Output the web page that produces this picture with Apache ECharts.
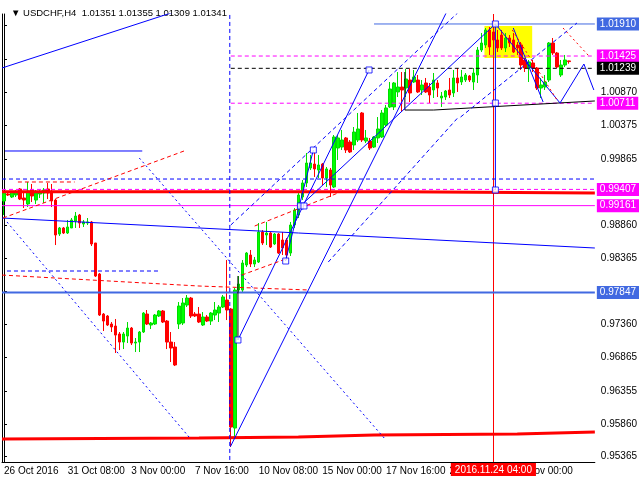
<!DOCTYPE html>
<html><head><meta charset="utf-8">
<script src="https://cdn.jsdelivr.net/npm/echarts@6/dist/echarts.min.js"></script>
<style>html,body{margin:0;padding:0;background:#fff}#c{width:640px;height:480px}</style>
</head><body><div id="c"></div>
<script>
// ---------- data ----------
const slotCount = 149; // bars + right shift
const xTickLabels = {0:'26 Oct 2016',16:'31 Oct 08:00',32:'3 Nov 00:00',48:'7 Nov 16:00',64:'10 Nov 08:00',80:'15 Nov 00:00',96:'17 Nov 16:00',112:'22 Nov 08:00',128:'25 Nov 00:00'};
const yTicks = [1.01890,1.01380,1.00870,1.00375,0.99865,0.99370,0.98860,0.98365,0.97860,0.97360,0.96865,0.96355,0.95860,0.95365];
const titleText = 'USDCHF,H4  1.01351 1.01355 1.01309 1.01341';
// [open, close, low, high]
const ohlc = [
[0.99231,0.99352,0.99019,0.99383],[0.99337,0.99322,0.99307,0.99368],[0.99292,0.99368,0.99277,0.99383],[0.99322,0.99352,0.99292,0.99398],
[0.99413,0.99261,0.99246,0.99428],[0.99277,0.99246,0.99125,0.99352],[0.99186,0.99383,0.99140,0.99519],[0.99398,0.99307,0.99216,0.99489],
[0.99246,0.99352,0.99186,0.99398],[0.99337,0.99368,0.99277,0.99398],[0.99352,0.99398,0.99201,0.99428],[0.99413,0.99352,0.99261,0.99504],
[0.99352,0.99231,0.99140,0.99489],[0.99246,0.98717,0.98565,0.99261],[0.98732,0.98823,0.98702,0.98838],[0.98823,0.98747,0.98732,0.98838],
[0.98747,0.98838,0.98732,0.98944],[0.98823,0.98944,0.98823,0.98974],[0.98929,0.99004,0.98823,0.99065],[0.99019,0.98898,0.98823,0.99035],
[0.98883,0.98914,0.98838,0.98944],[0.98898,0.98914,0.98868,0.98974],[0.98914,0.98581,0.98550,0.98929],[0.98596,0.98096,0.98081,0.98596],
[0.98127,0.97506,0.97491,0.98142],[0.97521,0.97415,0.97264,0.97536],[0.97491,0.97355,0.97340,0.97506],[0.97370,0.97325,0.97249,0.97400],
[0.97340,0.97203,0.96931,0.97446],[0.97219,0.97097,0.96976,0.97249],[0.97097,0.97219,0.96991,0.97249],[0.97188,0.97309,0.97082,0.97400],
[0.97309,0.97082,0.97052,0.97325],[0.97082,0.97097,0.96946,0.97158],[0.97097,0.97249,0.96946,0.97264],[0.97249,0.97536,0.97234,0.97551],
[0.97521,0.97370,0.97355,0.97582],[0.97355,0.97385,0.97294,0.97400],[0.97370,0.97506,0.97355,0.97521],[0.97491,0.97567,0.97476,0.97582],
[0.97567,0.97400,0.97385,0.97582],[0.97415,0.97097,0.96991,0.97430],[0.97097,0.97007,0.96795,0.97249],[0.97022,0.96750,0.96734,0.97097],
[0.97370,0.97642,0.97294,0.97703],[0.97385,0.97688,0.97355,0.97763],[0.97657,0.97763,0.97627,0.97809],[0.97763,0.97491,0.97461,0.97779],
[0.97521,0.97491,0.97476,0.97551],[0.97521,0.97400,0.97385,0.97627],[0.97355,0.97476,0.97340,0.97551],[0.97476,0.97415,0.97400,0.97506],
[0.97415,0.97536,0.97355,0.97551],[0.97506,0.97582,0.97430,0.97703],[0.97536,0.97627,0.97400,0.97657],[0.97627,0.97779,0.97612,0.97809],
[0.97733,0.97582,0.97430,0.98338],[0.97597,0.95811,0.95509,0.97612],[0.95796,0.97884,0.95660,0.97915],[0.97884,0.97975,0.97854,0.98096],
[0.97884,0.98293,0.97854,0.98338],[0.98263,0.98444,0.98232,0.98459],[0.98414,0.98278,0.98232,0.98490],[0.98278,0.98338,0.98232,0.98384],
[0.98308,0.98762,0.98293,0.98898],[0.98762,0.98596,0.98565,0.98792],[0.98717,0.98747,0.98565,0.98914],[0.98747,0.98535,0.98520,0.98762],
[0.98581,0.98732,0.98565,0.98747],[0.98732,0.98444,0.98429,0.98747],[0.98641,0.98520,0.98414,0.98762],[0.98641,0.98414,0.98338,0.98671],
[0.98444,0.98868,0.98399,0.98914],[0.98868,0.99095,0.98823,0.99125],[0.99019,0.99322,0.98974,0.99352],[0.99292,0.99504,0.99246,0.99549],
[0.99504,0.99806,0.99443,0.99958],[0.99731,0.99806,0.99700,0.99927],[0.99791,0.99716,0.99595,0.99973],[0.99700,0.99776,0.99579,0.99927],
[0.99791,0.99579,0.99473,0.99806],[0.99579,0.99716,0.99443,0.99746],[0.99700,0.99473,0.99292,0.99731],[0.99443,1.00200,0.99428,1.00230],
[1.00033,1.00185,0.99852,1.00230],[1.00048,1.00154,1.00003,1.00306],[1.00185,1.00003,0.99958,1.00200],[1.00124,0.99973,0.99958,1.00154],
[1.00079,1.00275,1.00003,1.00351],[1.00154,1.00321,1.00124,1.00563],[1.00563,1.00154,1.00124,1.00578],[1.00139,1.00185,1.00109,1.00306],
[1.00139,1.00033,1.00003,1.00185],[1.00048,1.00200,1.00033,1.00215],[1.00185,1.00321,1.00109,1.00502],[1.00200,1.00563,1.00185,1.00608],
[1.00381,1.00639,1.00351,1.00684],[1.00654,1.00926,1.00639,1.01032],[1.00654,1.01017,1.00608,1.01032],[1.00881,1.00956,1.00805,1.01183],
[1.00956,1.00911,1.00578,1.01183],[1.00941,1.01077,1.00805,1.01229],[1.01062,1.00866,1.00729,1.01229],[1.01032,1.01108,1.01017,1.01214],
[1.01062,1.00881,1.00866,1.01138],[1.00911,1.00987,1.00835,1.01062],[1.01017,1.00881,1.00866,1.01093],[1.00956,1.00835,1.00714,1.01017],
[1.00911,1.01062,1.00790,1.01168],[1.01017,1.00941,1.00805,1.01062],[1.00790,1.00820,1.00654,1.00881],[1.00805,1.00896,1.00760,1.00911],
[1.00911,1.00835,1.00790,1.01093],[1.00866,1.01093,1.00805,1.01214],[1.01093,1.01017,1.00881,1.01244],[1.01032,1.01108,1.00987,1.01214],
[1.01062,1.01138,1.01032,1.01168],[1.01123,1.01062,1.01032,1.01138],[1.01032,1.01168,1.00911,1.01244],[1.01138,1.01516,1.01017,1.01562],
[1.01516,1.01622,1.01486,1.01774],[1.01592,1.01819,1.01547,1.01849],[1.01819,1.01562,1.01441,1.01864],[1.01789,1.01668,1.01516,1.01910],
[1.01668,1.01547,1.01486,1.01819],[1.01743,1.01547,1.01516,1.01819],[1.01547,1.01698,1.01486,1.01774],[1.01698,1.01622,1.01562,1.01743],
[1.01668,1.01486,1.01471,1.01774],[1.01592,1.01547,1.01441,1.01637],[1.01592,1.01289,1.01214,1.01637],[1.01365,1.01244,1.01183,1.01395],
[1.01244,1.01335,1.01032,1.01365],[1.01320,1.01244,1.01183,1.01365],[1.01244,1.00941,1.00911,1.01259],[1.00941,1.00987,1.00790,1.01093],
[1.00956,1.01032,1.00911,1.01138],[1.01062,1.01622,1.01032,1.01637],[1.01622,1.01471,1.01441,1.01698],[1.01471,1.01259,1.01244,1.01486],
[1.01138,1.01289,1.01108,1.01365],[1.01289,1.01365,1.01259,1.01441],[1.01351,1.01341,1.01309,1.01355]
];
// drawn objects: [barIndex, price] points
const hBlueTop    = [[93,1.01910],[148.5,1.01910]];
const hMagTop     = [[57,1.01425],[148.5,1.01425]];
const hBlackCur   = [[57,1.01239],[148.5,1.01239]];
const hMagMid     = [[57,1.00711],[148.5,1.00711]];
const hBlueDash   = [[-0.5,0.99564],[148.5,0.99564]];
const hMagLow     = [[-0.5,0.99407],[148.5,0.99407]];
const hRedThick   = [[-0.5,0.99372],[99,0.99372],[99,0.99352],[148.5,0.99352]];
const hMagSolid   = [[-0.5,0.99161],[148.5,0.99161]];
const blueSlope   = [[-0.5,0.98974],[148.5,0.98520]];
const blueShortDash = [[0.75,0.98172],[39,0.98172]];
const redDashLow  = [[-0.5,0.98111],[49,0.97945],[76.5,0.97885]];
const hBlueThick  = [[-0.5,0.97847],[148.5,0.97847]];
const redBottom   = [[-0.5,0.95630],[49,0.95645],[74,0.95660],[93,0.95690],[129,0.95705],[148.5,0.95736]];
const blueShort   = [[0.25,0.99988],[34.75,0.99988]];
const redShortDash= [[3.5,0.99519],[17.75,0.99519]];
const blackBase   = [[100.75,1.01183],[100.75,1.00608],[108,1.00608],[148.5,1.00745]];
const blackVert   = [[58.8,0.98096],[58.8,0.97128]];
const blueTopLeft = [[-0.5,1.01244],[52,1.02273]];
const redDashRise = [[-0.25,0.98974],[45.25,0.99988]];
const blueDotDown1= [[0.75,0.98914],[46.5,0.95660]];
const blueDotDown2= [[34,0.99882],[96,0.95614]];
const blueVertDash= [[56.75,1.03],[56.75,0.94]];
const blueLong    = [[56.9,0.95513],[111.5,1.02122]];
const blueFork    = [[58.8,0.97128],[91.75,1.01214]];
const blueSteep   = [[70.75,0.98323],[77.75,1.00003]];
const blueToPeak  = [[74.5,0.99156],[123.5,1.01910]];
const blueVertPk  = [[123.5,1.01910],[123.5,0.99398]];
const blueZig     = [[123.5,1.01910],[139.75,1.00714],[145.75,1.01304],[148.25,1.00911]];
const blueZig2    = [[128,1.01849],[135.5,1.00729]];
const chanUp1     = [[57,0.98868],[114,1.02076]];
const chanUp2     = [[81.5,0.98308],[114,1.00487]];
const chanUp3     = [[114.75,1.00502],[144,1.01925]];
const redChan1    = [[63,0.98853],[85.25,0.99383]];
const redChan2    = [[59.75,0.98111],[71.5,0.98369]];
const redRight1   = [[127.75,1.01819],[139,1.00760]];
const redRight2   = [[140.5,1.01849],[147,1.01426]];
const squares     = [[58.8,0.97128],[70.8,0.98323],[74.5,0.99156],[75.4,0.99156],[77.75,1.00003],[91.75,1.01214],[123.5,1.01910],[123.5,1.00714],[123.5,0.99398]];
const yellowBox   = [[120.75,1.01880],[132.75,1.01395]];
const crossIdx = 123, crossLabel = '2016.11.24 04:00';

// ---------- chart ----------
const FONT = 'Liberation Sans';
const cats = Array.from({length: slotCount}, (_, i) => String(i));
const showTick = i => i % 16 === 0 && i <= 128;
function ln(data, color, width, type, extra) {
  return Object.assign({type:'line', xAxisIndex:1, yAxisIndex:0, data, symbol:'none', silent:true, z:6,
    lineStyle:{color, width, type: type || 'solid'}, clip:true, animation:false}, extra || {});
}
function endLbl(text, bg, fg) {
  return {endLabel:{show:true, formatter:text, color:fg||'#fff', backgroundColor:bg, fontFamily:FONT, fontSize:10,
    padding:[2,3,1,3], distance:2}};
}
const DASH=[4,3], DOT=[2,3];
const series = [
  {type:'line', xAxisIndex:1, data:[], z:1, silent:true,
   markArea:{silent:true, itemStyle:{color:'#ffff00'}, data:[[{coord:yellowBox[0]},{coord:yellowBox[1]}]]}},
  {type:'candlestick', xAxisIndex:0, yAxisIndex:0, data:ohlc, barWidth:3, z:5, animation:false,
   itemStyle:{color:'#00ff00', color0:'#ff0000', borderColor:'#00dd00', borderColor0:'#ff0000', borderWidth:1}},
  ln(hBlueTop,'#4169e1',1,'solid', endLbl('1.01910','#4169e1')),
  ln(hMagTop,'#ff00ff',1,DASH, endLbl('1.01425','#ff00ff')),
  ln(hBlackCur,'#000',1,DASH, endLbl('1.01239','#000')),
  ln(hMagMid,'#ff00ff',1,DASH, endLbl('1.00711','#ff00ff')),
  ln(hBlueDash,'#0000ff',1,DASH),
  ln(hRedThick,'#ff0000',3),
  ln(hMagLow,'#ff00ff',1,DASH, endLbl('0.99407','#ff00ff')),
  ln(hMagSolid,'#ff00ff',1,'solid', endLbl('0.99161','#ff00ff')),
  ln(blueSlope,'#0000ff',1),
  ln(blueShortDash,'#0000ff',1,DASH),
  ln(redDashLow,'#ff0000',1,DASH),
  ln(hBlueThick,'#4169e1',2,'solid', endLbl('0.97847','#4169e1')),
  ln(redBottom,'#ff0000',3),
  ln(blueShort,'#0000ff',1),
  ln(redShortDash,'#ff0000',1,DASH),
  ln(blackBase,'#000',1),
  ln(blackVert,'#000',1),
  ln(blueTopLeft,'#0000ff',1),
  ln(redDashRise,'#ff0000',1,DASH),
  ln(blueDotDown1,'#0000ff',1,DOT),
  ln(blueDotDown2,'#0000ff',1,DOT),
  ln(blueVertDash,'#0000ff',1,DASH),
  ln(blueLong,'#0000ff',1),
  ln(blueFork,'#0000ff',1),
  ln(blueSteep,'#0000ff',1),
  ln(blueToPeak,'#0000ff',1),
  ln(blueVertPk,'#0000ff',1),
  ln(blueZig,'#0000ff',1),
  ln(blueZig2,'#0000ff',1),
  ln(chanUp1,'#0000ff',1,DASH),
  ln(chanUp2,'#0000ff',1,DASH),
  ln(chanUp3,'#0000ff',1,DASH),
  ln(redChan1,'#ff0000',1,DASH),
  ln(redChan2,'#ff0000',1,DASH),
  ln(redRight1,'#ff0000',1,DOT),
  ln(redRight2,'#ff0000',1,DOT),
  {type:'line', xAxisIndex:1, data:[], z:7, silent:true,
   markLine:{silent:true, symbol:['none','none'], animation:false,
     lineStyle:{color:'#ff0000', width:1, type:'solid'},
     label:{position:'start', formatter:crossLabel, color:'#fff', backgroundColor:'#ff0000', fontFamily:FONT, fontSize:10, padding:[2,4,1,4], distance:1},
     data:[{xAxis:crossIdx}]}},
  {type:'scatter', xAxisIndex:1, data:squares, symbol:'rect', symbolSize:6, z:8, silent:true,
   itemStyle:{color:'#fff', borderColor:'#0000ff', borderWidth:1}}
];
const chart = echarts.init(document.getElementById('c'), null, {renderer:'canvas'});
chart.setOption({
  animation:false,
  backgroundColor:'#fff',
  title:{text:'\u25BC ' + titleText, left:6, top:3, textStyle:{fontFamily:FONT, fontSize:9.5, fontWeight:'normal', color:'#000'}},
  grid:{left:2, right:43, top:14, bottom:18},
  xAxis:[
    {type:'category', data:cats, boundaryGap:true,
     axisLine:{lineStyle:{color:'#000'}},
     axisTick:{interval:(i)=>showTick(i), length:4, lineStyle:{color:'#000'}},
     axisLabel:{interval:(i)=>showTick(i), formatter:(v,i)=>xTickLabels[i]||'', align:'left', margin:4, color:'#000', fontFamily:FONT, fontSize:10},
     splitLine:{show:false}},
    {type:'value', min:-0.5, max:slotCount-0.5, show:false}
  ],
  yAxis:[
    {type:'value', position:'right', min:0.95282, max:1.02061, scale:true,
     axisLine:{show:true, lineStyle:{color:'#000'}},
     axisTick:{show:true, length:3, customValues:yTicks, lineStyle:{color:'#000'}},
     axisLabel:{customValues:yTicks, formatter:v=>v.toFixed(5), margin:6, color:'#000', fontFamily:FONT, fontSize:10},
     splitLine:{show:false}},
    {type:'value', position:'left', min:0.95282, max:1.02061, axisLine:{show:true, lineStyle:{color:'#000'}},
     axisTick:{show:false}, axisLabel:{show:false}, splitLine:{show:false}}
  ],
  series
});
</script></body></html>
